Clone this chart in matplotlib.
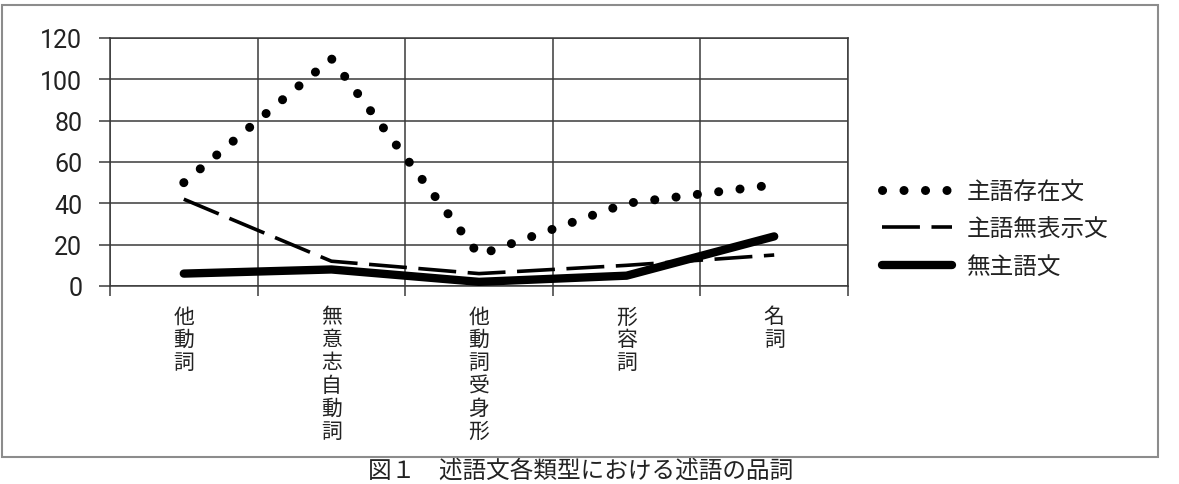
import matplotlib
matplotlib.use("Agg")
import matplotlib.pyplot as plt
from matplotlib.patches import Rectangle

plt.rcParams['font.family'] = ['Noto Sans CJK JP', 'DejaVu Sans']

# Data
categories = ["他動詞", "無意志自動詞", "他動詞受身形", "形容詞", "名詞"]
series_names = ["主語存在文", "主語無表示文", "無主語文"]
shugo_sonzai = [50, 110, 15, 40, 49]
shugo_muhyoji = [42, 12, 6, 10, 15]
mushugo = [6, 8, 2, 5, 24]
y_ticks = [0, 20, 40, 60, 80, 100, 120]
caption = "図１　述語文各類型における述語の品詞"

W, H = 1179, 485
fig = plt.figure(figsize=(W / 100, H / 100), dpi=100)
ax = fig.add_axes([110 / W, 1 - 287 / H, (848 - 110) / W, (287 - 39) / H])

grid_c = "#3a3a3a"
x = list(range(len(categories)))

# Lines
ax.plot(x, shugo_sonzai, color="black", lw=6.5, linestyle=(0, (0.01, 2.37)),
        dash_capstyle="round", label=series_names[0], zorder=3)
ax.plot(x, shugo_muhyoji, color="black", lw=2.6, linestyle=(0, (10.5, 3.2)),
        dash_capstyle="butt", label=series_names[1], zorder=4)
ax.plot(x, mushugo, color="black", lw=6, solid_capstyle="round",
        label=series_names[2], zorder=5)

# Axes
ax.set_xlim(-0.5, len(categories) - 0.5)
ax.set_ylim(0, 120)
ax.set_yticks(y_ticks)
ax.set_yticklabels([str(v) for v in y_ticks], fontfamily="Roboto",
                   fontsize=18, color="#222222")
ax.tick_params(axis="y", length=8, width=1.1, color=grid_c, pad=12)

ax.set_xticks([i - 0.5 for i in range(len(categories) + 1)])
ax.set_xticklabels([])
ax.tick_params(axis="x", which="major", length=7, width=1.1, color=grid_c)
ax.set_xticks(x, minor=True)
ax.set_xticklabels(["\n".join(c) for c in categories], minor=True,
                   fontsize=15, linespacing=1.05, va="top", color="#222222")
ax.tick_params(axis="x", which="minor", length=0, pad=14)

ax.grid(True, which="major", color=grid_c, lw=1.1)
ax.set_axisbelow(True)
for s in ax.spines.values():
    s.set_color(grid_c)
    s.set_linewidth(1.1)

# Legend
leg = fig.legend(loc="center left", bbox_to_anchor=(882 / W, 1 - 230 / H),
                 frameon=False, fontsize=17, handlelength=2.95,
                 handletextpad=0.65, labelspacing=0.62, borderpad=0,
                 borderaxespad=0)
for t in leg.get_texts():
    t.set_color("#222222")

# Outer border
fig.patches.append(Rectangle((2 / W, 1 - 458 / H), 1156 / W, 452 / H,
                             transform=fig.transFigure, fill=False,
                             edgecolor="#8c8c8c", lw=1.5))

fig.text(581 / W, 1 - 460 / H, caption, ha="center", va="top",
         fontsize=17, color="#222222")

fig.savefig("out.png", dpi=100)
